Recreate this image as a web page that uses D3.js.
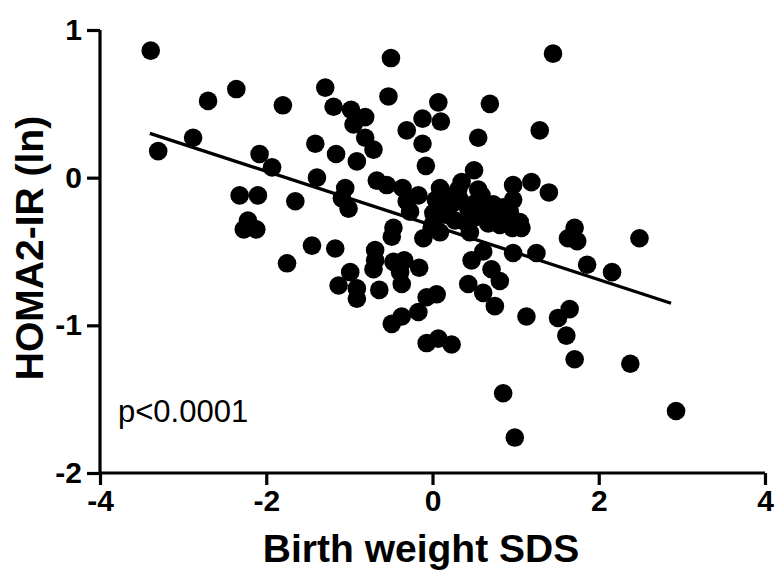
<!DOCTYPE html>
<html><head><meta charset="utf-8">
<script src="https://cdn.jsdelivr.net/npm/d3@7"></script>
<style>body{margin:0;background:#fff}svg{display:block}text{font-family:"Liberation Sans",Arial,sans-serif}</style>
</head><body><svg id="c" width="778" height="576"></svg>
<script>
const xTicks=[-4,-2,0,2,4];
const yTicks=[-2,-1,0,1];
const xVals=[-3.39,-3.30,-2.88,-2.70,-2.36,-2.08,-1.93,-2.32,-2.10,-2.27,-2.12,-2.22,
-0.50,-1.29,-0.53,-1.80,-1.19,-0.98,-0.81,-0.95,0.07,-0.12,0.10,-0.31,-0.81,-0.71,-1.41,-1.16,-0.91,-0.12,-0.08,-1.39,-0.67,-0.55,-0.36,-1.05,-1.09,-1.01,-1.65,-0.17,-0.31,0.01,-0.27,
1.45,0.69,1.29,0.55,0.50,0.35,0.09,0.97,1.19,1.40,0.59,0.97,0.73,0.93,
-1.45,-1.17,-1.75,-0.47,-0.49,-0.69,-0.69,-0.71,-0.99,-1.13,-0.91,-0.91,-0.64,-0.47,-0.34,-0.39,-0.37,-0.16,-0.07,-0.17,-0.37,-0.49,-0.07,0.07,-0.11,0.01,
1.07,1.71,1.74,1.63,0.97,1.25,1.86,2.16,0.47,0.61,0.71,0.81,0.43,0.61,0.75,0.05,1.13,1.51,1.65,1.61,1.71,0.23,0.85,0.99,
2.49,2.38,2.93,
0.04,0.15,0.23,0.33,0.43,0.52,0.63,0.75,0.85,0.93,0.15,0.27,0.39,0.51,0.67,0.81,0.96,-0.01,0.09,0.45,1.05,0.31,0.55];
const yVals=[0.86,0.18,0.27,0.52,0.60,0.16,0.07,-0.12,-0.12,-0.35,-0.35,-0.29,
0.81,0.61,0.55,0.49,0.48,0.46,0.41,0.36,0.51,0.40,0.38,0.32,0.27,0.19,0.23,0.16,0.11,0.23,0.08,0.00,-0.02,-0.05,-0.07,-0.07,-0.14,-0.21,-0.16,-0.12,-0.16,-0.24,-0.23,
0.84,0.50,0.32,0.27,0.05,-0.03,-0.07,-0.05,-0.03,-0.10,-0.12,-0.15,-0.18,-0.23,
-0.46,-0.48,-0.58,-0.34,-0.40,-0.49,-0.56,-0.62,-0.64,-0.73,-0.75,-0.82,-0.76,-0.57,-0.56,-0.64,-0.72,-0.61,-0.81,-0.91,-0.94,-0.99,-1.12,-1.09,-0.41,-0.31,
-0.34,-0.34,-0.43,-0.41,-0.51,-0.51,-0.59,-0.64,-0.56,-0.50,-0.62,-0.70,-0.72,-0.78,-0.87,-0.79,-0.94,-0.95,-0.89,-1.07,-1.23,-1.13,-1.46,-1.76,
-0.41,-1.26,-1.58,
-0.15,-0.12,-0.18,-0.15,-0.21,-0.17,-0.22,-0.24,-0.20,-0.27,-0.25,-0.29,-0.30,-0.27,-0.31,-0.32,-0.34,-0.34,-0.37,-0.37,-0.30,-0.08,-0.08];
const fitX=[-3.40,2.87];
const fitY=[0.30,-0.85];
const pLabel="p<0.0001";

const svg=d3.select("#c");
const x=d3.scaleLinear().domain([-4,4]).range([100,765]);
const y=d3.scaleLinear().domain([-2,1]).range([473,30]);

const pts=xVals.map((v,i)=>({x:v,y:yVals[i]}));
svg.append("g").selectAll("circle").data(pts).join("circle")
 .attr("cx",d=>x(d.x)).attr("cy",d=>y(d.y)).attr("r",9.3).attr("fill","#000");

svg.append("line").attr("x1",x(fitX[0])).attr("y1",y(fitY[0])).attr("x2",x(fitX[1])).attr("y2",y(fitY[1]))
 .attr("stroke","#000").attr("stroke-width",3.2);

const xAxis=svg.append("g").attr("transform","translate(0,473)")
 .call(d3.axisBottom(x).tickValues(xTicks).tickSize(12).tickPadding(5).tickFormat(d=>String(d)));
const yAxis=svg.append("g").attr("transform","translate(100,0)")
 .call(d3.axisLeft(y).tickValues(yTicks).tickSize(13).tickPadding(5).tickFormat(d=>String(d)));
[xAxis,yAxis].forEach(g=>{
 g.select(".domain").attr("stroke","#000").attr("stroke-width",3.2);
 g.selectAll(".tick line").attr("stroke","#000").attr("stroke-width",3.2);
 g.selectAll(".tick text").attr("fill","#000").style("font-size","30px").style("font-weight","bold");
});
xAxis.select(".domain").attr("d","M100,0H765");
yAxis.select(".domain").attr("d","M0,30V473");

svg.append("text").attr("x",421).attr("y",562).attr("text-anchor","middle")
 .style("font-size","39px").style("font-weight","bold").text("Birth weight SDS");
svg.append("text").attr("transform","translate(43,248) rotate(-90)").attr("text-anchor","middle")
 .style("font-size","39px").style("font-weight","bold").text("HOMA2-IR (ln)");
svg.append("text").attr("x",118).attr("y",422).style("font-size","31px").text(pLabel);
</script></body></html>
